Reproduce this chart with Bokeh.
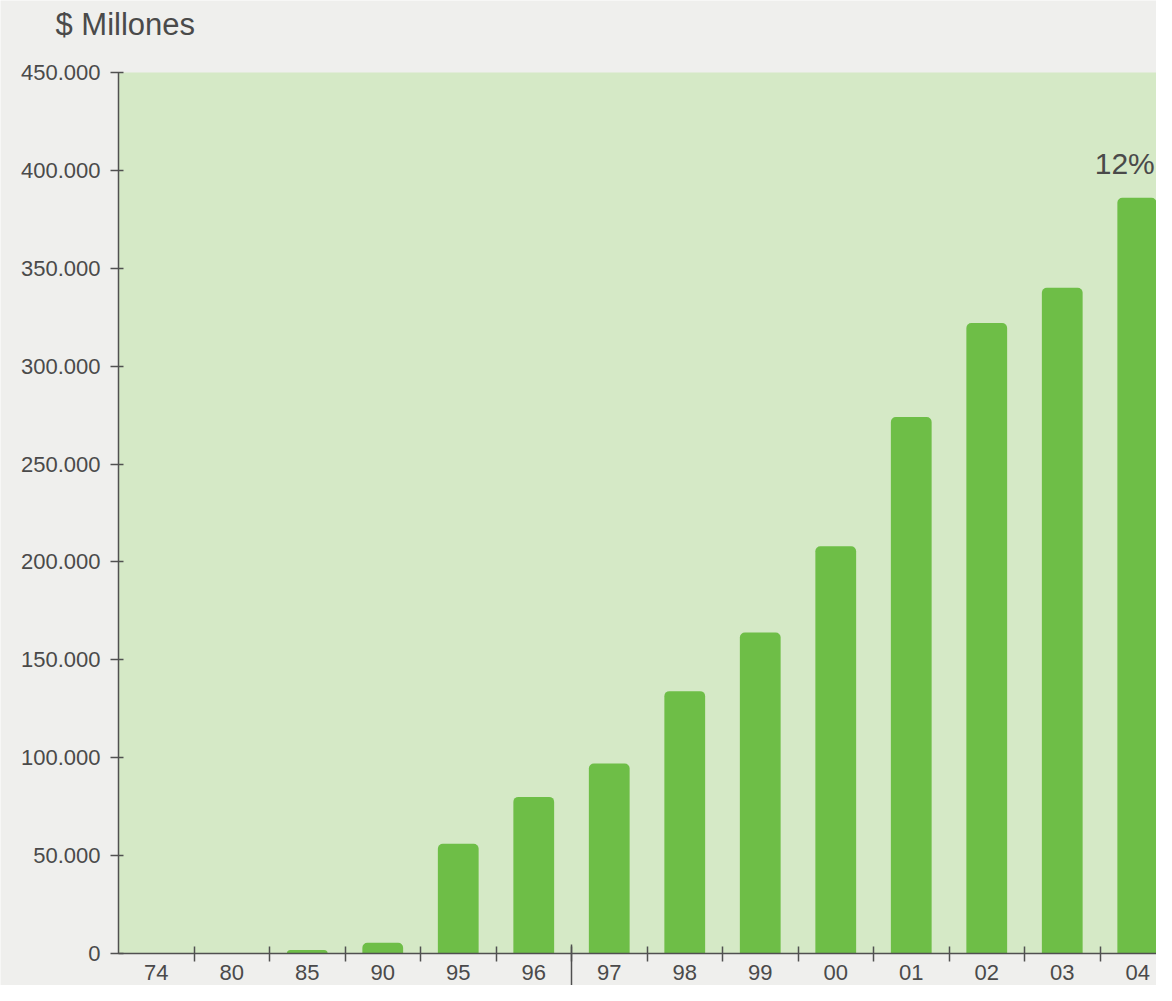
from bokeh.plotting import figure
from bokeh.models import Range1d, FixedTicker, Label, ColumnDataSource, BoxAnnotation, LinearAxis
from bokeh.embed import file_html
from bokeh.resources import INLINE

# ---- data ----
years = ["74", "80", "85", "90", "95", "96", "97", "98", "99", "00", "01", "02", "03", "04"]
values = [0, 0, 1800, 5500, 56000, 80000, 97000, 134000, 164000, 208000, 274000, 322000, 340000, 386000]
y_ticks = [0, 50000, 100000, 150000, 200000, 250000, 300000, 350000, 400000, 450000]
unit_label = "$ Millones"
growth_label = "12%"
separator_after = "96"

FONT = "Liberation Sans"
TXT = "#4a4a4a"
AX = "#505050"
BAR = "#6ebe47"
FRAME_BG = "#d5e9c6"
PAGE_BG = "#efefed"

idx = list(range(len(years)))
src = ColumnDataSource(dict(x=idx, top=values, year=years))

# ---- layout (pixels) ----
W, H = 1156, 985
AXIS_X = 118      # column of the value axis
TOP_PX = 72       # row of the top tick
ZERO_PX = 953     # row of the zero line
px_per_cat = 75.5
per_px = y_ticks[-1] / (ZERO_PX - TOP_PX)
x0 = -0.5
x_range = Range1d(x0 - AXIS_X / px_per_cat, x0 + (W - AXIS_X) / px_per_cat)
y_range = Range1d(-(H - ZERO_PX) * per_px, y_ticks[-1] + TOP_PX * per_px)

p = figure(width=W, height=H, output_backend="svg", toolbar_location=None,
           x_range=x_range, y_range=y_range,
           x_axis_location=None, y_axis_location=None,
           min_border_left=0, min_border_right=0, min_border_top=0, min_border_bottom=0)
p.background_fill_color = PAGE_BG
p.border_fill_color = PAGE_BG
p.outline_line_color = None
p.grid.visible = False

# green plotting panel
p.add_layout(BoxAnnotation(left=x0, bottom=0, top=y_ticks[-1], fill_color=FRAME_BG, fill_alpha=1,
                           line_color=None, level="underlay"))

p.vbar(x="x", top="top", width=0.54, source=src, fill_color=BAR, line_color=None,
       border_radius=(5, 5, 0, 0))

# separator between 96 and 97
sep_x = years.index(separator_after) + 0.5
p.segment(x0=[sep_x], y0=[9 * per_px], x1=[sep_x], y1=[y_range.start], line_color=AX, line_width=1.5)

# x axis at zero: labels at centres, ticks at boundaries (minor)
xa = LinearAxis(fixed_location=0)
xa.ticker = FixedTicker(ticks=idx, minor_ticks=[i + 0.5 for i in idx])
xa.major_label_overrides = {i: y for i, y in zip(idx, years)}
xa.major_tick_in = 0
xa.major_tick_out = 0
xa.minor_tick_in = 7
xa.minor_tick_out = 8
xa.minor_tick_line_color = AX
xa.minor_tick_line_width = 1.5
xa.axis_line_color = AX
xa.axis_line_width = 1.5
xa.major_label_standoff = 3
xa.major_label_text_font = FONT
xa.major_label_text_font_size = "22px"
xa.major_label_text_color = TXT
xa.bounds = (x0, x_range.end)
p.add_layout(xa, "below")

ya = LinearAxis(fixed_location=x0)
ya.bounds = (0, y_ticks[-1])
ya.ticker = FixedTicker(ticks=y_ticks, minor_ticks=[])
ya.major_label_overrides = {v: f"{v:,}".replace(",", ".") for v in y_ticks}
ya.major_tick_in = 5
ya.major_tick_out = 8
ya.major_tick_line_color = AX
ya.major_tick_line_width = 1.5
ya.axis_line_color = AX
ya.axis_line_width = 1.5
ya.major_label_standoff = 10
ya.major_label_text_font = FONT
ya.major_label_text_font_size = "22px"
ya.major_label_text_color = TXT
p.add_layout(ya, "left")

p.add_layout(Label(x=x0, y=y_ticks[-1], x_offset=-63, y_offset=48, text=unit_label,
                   text_font=FONT, text_font_size="31px", text_color=TXT,
                   text_align="left", text_baseline="middle"))

p.add_layout(Label(x=idx[-1], y=values[-1], x_offset=17, y_offset=18, text=growth_label,
                   text_font=FONT, text_font_size="30px", text_color=TXT,
                   text_align="right", text_baseline="bottom"))

open("out.html", "w").write(file_html(p, INLINE))
